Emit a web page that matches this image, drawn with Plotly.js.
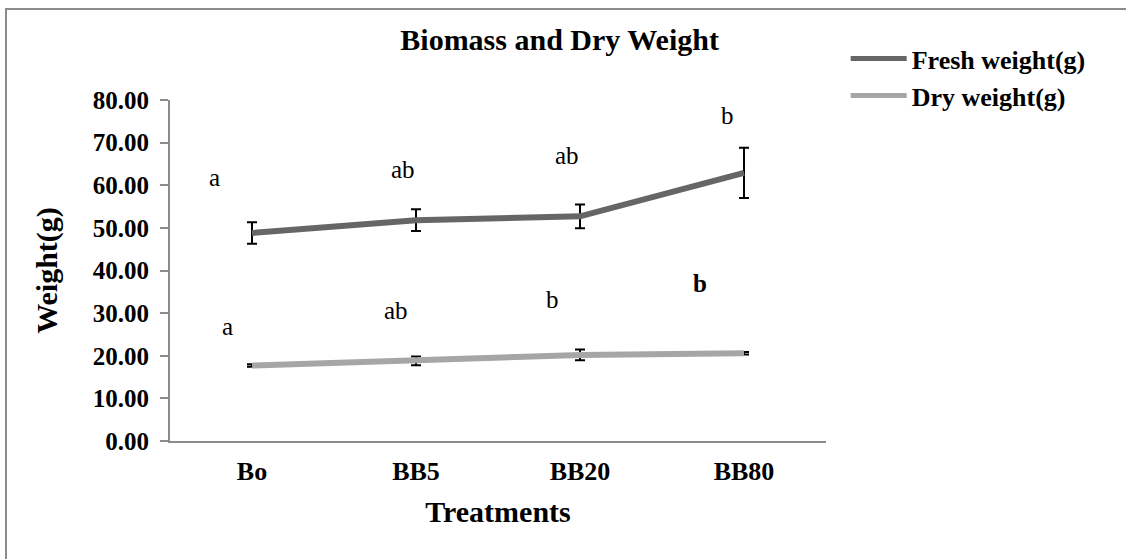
<!DOCTYPE html>
<html>
<head>
<meta charset="utf-8">
<script src="https://cdn.plot.ly/plotly-3.0.1.min.js"></script>
<style>
  html, body { margin: 0; padding: 0; background: #fff; }
  #wrap { position: relative; width: 1126px; height: 559px; overflow: hidden; }
  #chart { position: absolute; left: 0; top: 0; width: 1126px; height: 559px; }
  #frame { position: absolute; left: 5px; top: 8px; width: 1200px; height: 700px;
           border-left: 2px solid #8c8c8c; border-top: 2px solid #8c8c8c; pointer-events: none; }
</style>
</head>
<body>
<div id="wrap">
  <div id="chart"></div>
  <div id="frame"></div>
</div>
<script>
// ---- data ----
const treatments = ['Bo', 'BB5', 'BB20', 'BB80'];
const freshWeight = [48.8, 51.8, 52.7, 62.9];
const freshErr = [2.5, 2.55, 2.8, 5.9];
const dryWeight = [17.7, 18.8, 20.2, 20.6];
const dryErr = [0.3, 1.0, 1.25, 0.3];
const freshLetters = ['a', 'ab', 'ab', 'b'];
const dryLetters = ['a', 'ab', 'b', '<b>b</b>'];
const yTickVals = [0, 10, 20, 30, 40, 50, 60, 70, 80];

// ---- letter label placement (layout only) ----
const freshLetterX = [-0.23, 0.92, 1.92, 2.90];
const freshLetterY = [61.8, 63.6, 66.9, 76.4];
const dryLetterX = [-0.15, 0.88, 1.83, 2.73];
const dryLetterY = [26.9, 30.6, 33.2, 37.0];

const serif = '"Liberation Serif", "Times New Roman", serif';

const traces = [
  {
    x: treatments, y: freshWeight, name: '<b>Fresh weight(g)</b>', type: 'scatter', mode: 'lines',
    line: { color: '#666666', width: 6 },
    error_y: { type: 'data', array: freshErr, visible: true, color: '#000000', thickness: 2, width: 5 }
  },
  {
    x: treatments, y: dryWeight, name: '<b>Dry weight(g)</b>', type: 'scatter', mode: 'lines',
    line: { color: '#a6a6a6', width: 6 },
    error_y: { type: 'data', array: dryErr, visible: true, color: '#000000', thickness: 2, width: 5 }
  }
];

const annotations = [];
freshLetters.forEach((t, i) => annotations.push({
  x: freshLetterX[i], y: freshLetterY[i], xref: 'x', yref: 'y', text: t, showarrow: false,
  font: { family: serif, size: 25, color: '#000' }
}));
dryLetters.forEach((t, i) => annotations.push({
  x: dryLetterX[i], y: dryLetterY[i], xref: 'x', yref: 'y', text: t, showarrow: false,
  font: { family: serif, size: 25, color: '#000' }
}));

const layout = {
  width: 1126, height: 559,
  margin: { l: 170, r: 300, t: 100, b: 118 },
  paper_bgcolor: '#ffffff', plot_bgcolor: '#ffffff',
  font: { family: serif, color: '#000' },
  title: {
    text: '<b>Biomass and Dry Weight</b>',
    font: { family: serif, size: 30, color: '#000' },
    x: 0.497, xref: 'container', xanchor: 'center',
    y: 0.93, yref: 'container', yanchor: 'middle'
  },
  xaxis: {
    type: 'category', range: [-0.5, 3.5],
    showline: true, linecolor: '#8c8c8c', linewidth: 2,
    showgrid: false, zeroline: false, ticks: '',
    tickfont: { family: serif, size: 26, color: '#000' },
    tickvals: treatments, ticktext: treatments.map(t => '<b>' + t + '</b>'),
    ticklabelstandoff: 6,
    title: { text: '<b>Treatments</b>', font: { family: serif, size: 30, color: '#000' }, standoff: 16 }
  },
  yaxis: {
    range: [0, 80], showline: true, linecolor: '#8c8c8c', linewidth: 2,
    showgrid: false, zeroline: false,
    ticks: 'outside', ticklen: 8, tickwidth: 2, tickcolor: '#8c8c8c',
    tickvals: yTickVals, ticktext: yTickVals.map(v => '<b>' + v.toFixed(2) + '</b>'),
    tickfont: { family: serif, size: 25, color: '#000' },
    ticklabelstandoff: 6,
    title: { text: '<b>Weight(g)</b>', font: { family: serif, size: 30, color: '#000' }, standoff: 26 }
  },
  showlegend: true,
  legend: {
    x: 1.03, xref: 'paper', xanchor: 'left',
    y: 1.19, yanchor: 'top',
    font: { family: serif, size: 26, color: '#000' },
    itemwidth: 56, tracegroupgap: 0, itemsizing: 'constant',
    bgcolor: 'rgba(0,0,0,0)'
  },
  annotations: annotations
};

Plotly.newPlot('chart', traces, layout, { displayModeBar: false, staticPlot: true });
</script>
</body>
</html>
